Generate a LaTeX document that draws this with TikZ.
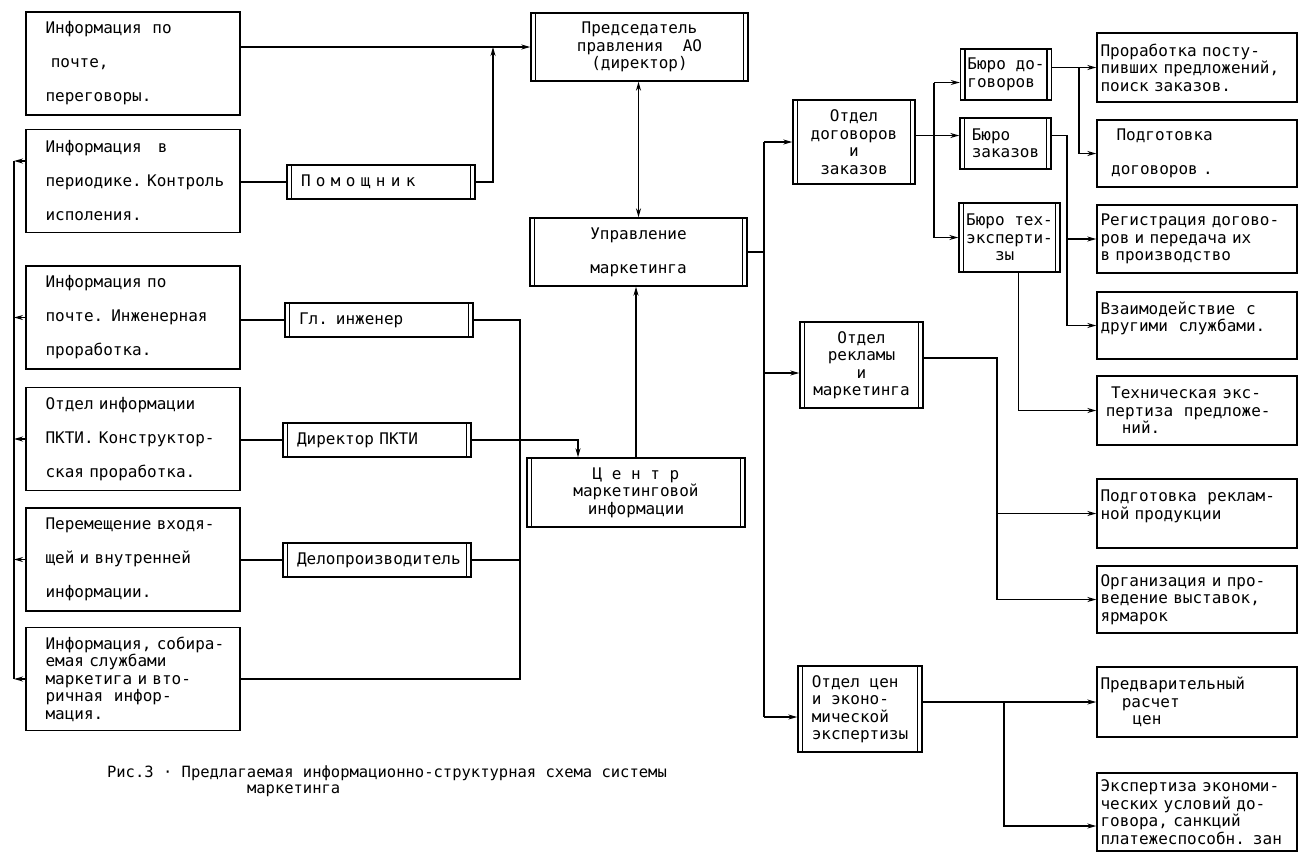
\documentclass[tikz,border=0pt]{standalone}
\usepackage{fontspec}
\newfontfamily\schemefont{DejaVu Sans Mono}
\usetikzlibrary{arrows.meta, calc}
\hyphenpenalty=10000
\exhyphenpenalty=10000

\begin{document}
\begin{tikzpicture}[x=1pt, y=-1pt, line width=1.4pt,
    >={Stealth[length=9pt,width=5pt]},
    every node/.style={font=\schemefont\fontsize{16}{17.5}\selectfont},
    wide/.style={font=\schemefont\fontsize{16}{34}\selectfont},
    box/.style={draw, line width=1.4pt, inner sep=0pt},
    dbox/.style={box, path picture={
        \draw[line width=1.4pt] ([xshift=4.5pt]path picture bounding box.north west) -- ([xshift=4.5pt]path picture bounding box.south west)
            ([xshift=-4.5pt]path picture bounding box.north east) -- ([xshift=-4.5pt]path picture bounding box.south east);}},
    lbox/.style={box, minimum width=214, minimum height=103, text width=175, align=left},
    mbox/.style={dbox, minimum width=188, minimum height=34, text width=160, align=left},
    rbox/.style={box, minimum width=200, text width=193, align=left}]
    \useasboundingbox (0,0) rectangle (1300,857);

    % Incoming information (left column)
    \node[lbox, wide] (mail) at (133,63.5) {Информация~~по\\~почте,\\переговоры.};
    \node[lbox, wide] (press) at (133,181) {Информация~~~в\\периодике.~Контроль\\исполения.};
    \node[lbox, wide] (tech) at (133,317.5) {Информация по\\почте. Инженерная\\проработка.};
    \node[lbox, wide] (pkti) at (133,439) {Отдел информации\\ПКТИ. Конструктор-\\ская проработка.};
    \node[lbox, wide] (flow) at (133,559.5) {Перемещение входя-\\щей и внутренней\\информации.};
    \node[lbox] (second) at (133,679) {Информация,~собира-\\емая службами\\маркетига и вто-\\ричная~~инфор-\\мация.};

    % Staff
    \node[mbox] (asst) at (381,182) {П о м о щ н и к};
    \node[mbox] (eng) at (379,320) {Гл. инженер};
    \node[mbox] (dir) at (377,440) {Директор ПКТИ};
    \node[mbox] (clerk) at (377,560) {Делопроизводитель};

    % Management
    \node[dbox, minimum width=217, minimum height=68, align=center] (chair) at (639.5,47) {Председатель\\правления~~АО\\(директор)};
    \node[dbox, wide, minimum width=217, minimum height=68, align=center] (mgmt) at (638.5,252) {Управление\\маркетинга};
    \node[dbox, minimum width=218, minimum height=69, align=center] (mic) at (636,492.5) {Ц е н т р\\маркетинговой\\информации};

    % Departments
    \node[dbox, minimum width=122, minimum height=84, align=center] (contr) at (854,142) {Отдел\\договоров\\и\\заказов};
    \node[dbox, minimum width=123, minimum height=86, align=center] (adv) at (861.5,365) {Отдел\\рекламы\\и\\маркетинга};
    \node[dbox, minimum width=124, minimum height=86, align=left] (price) at (860,709) {Отдел цен\\и эконо-\\мической\\экспертизы};

    % Bureaus
    \node[dbox, minimum width=91, minimum height=51, align=left] (bdog) at (1006,74.5) {Бюро до-\\говоров};
    \node[dbox, minimum width=91, minimum height=51, align=left] (bzak) at (1005.5,143.5) {Бюро\\заказов};
    \node[dbox, minimum width=101, minimum height=69, align=left] (btex) at (1009.5,237.5) {Бюро тех-\\эксперти-\\~~~зы};

    % Functions (right column)
    \node[rbox, minimum height=69] (r1) at (1197,67.5) {Проработка посту-\\пивших предложений,\\поиск заказов.};
    \node[rbox, wide, minimum height=67] (r2) at (1197,153.5) {~~~Подготовка\\~~договоров~.};
    \node[rbox, minimum height=68] (r3) at (1197,239) {Регистрация догово-\\ров и передача их\\в производство};
    \node[rbox, minimum height=67] (r4) at (1197,325.5) {Взаимодействие~~с\\другими~~службами.\\\mbox{}};
    \node[rbox, minimum height=69] (r5) at (1197,410.5) {~~Техническая экс-\\~пертиза~~предложе-\\~~~~ний.};
    \node[rbox, minimum height=69] (r6) at (1197,513.5) {Подготовка~~реклам-\\ной продукции\\\mbox{}};
    \node[rbox, minimum height=67] (r7) at (1197,599.5) {Организация и про-\\ведение выставок,\\ярмарок};
    \node[rbox, minimum height=70] (r8) at (1197,702) {Предварительный\\~~~~расчет\\~~~~~~цен};
    \node[rbox, minimum height=78] (r9) at (1197,812) {Экспертиза экономи-\\ческих условий до-\\говора, санкций\\платежеспособн. зан};

    % Caption
    \node[anchor=base west, align=left, font=\schemefont\fontsize{15.5}{15.5}\selectfont] (caption) at (103,793)
        {Рис.3 · Предлагаемая информационно-структурная схема системы\\~~~~~~~~~~~~~~~маркетинга};

    % Helper points
    \coordinate (lbus) at (14,0);
    \coordinate (up) at (493,0);
    \coordinate (mbus) at (520,0);
    \coordinate (rbus) at (764,0);
    \coordinate (cbus) at (934,0);
    \coordinate (v1) at (1079,0);
    \coordinate (v2) at (1067,0);
    \coordinate (v3) at (997,0);
    \coordinate (v4) at (1004,0);
    \coordinate (pressout) at ([yshift=20pt]press.west);
    \coordinate (micin) at ([xshift=-58pt]mic.north);
    \coordinate (advin) at ([yshift=-8pt]adv.west);
    \coordinate (pricein) at ([yshift=-8pt]price.west);
    \coordinate (bdogin) at ([yshift=-8pt]bdog.west);
    \coordinate (bzakin) at ([yshift=8pt]bzak.west);
    \coordinate (bzakout) at ([yshift=8pt]bzak.east);
    \coordinate (btexout) at ([xshift=9pt]btex.south);
    \coordinate (advout) at ([yshift=7pt]adv.east);
    \coordinate (r9in) at ([yshift=-14pt]r9.west);

    % Left bus
    \draw (pressout -| lbus) -- (second.west -| lbus);
    \draw[->] (pressout) -- (pressout -| lbus);
    \draw[->] (tech.west) -- (tech.west -| lbus);
    \draw[->] (pkti.west) -- (pkti.west -| lbus);
    \draw[->] (flow.west) -- (flow.west -| lbus);
    \draw[->] (second.west) -- (second.west -| lbus);

    % Information to the staff
    \draw[->] (chair.west -| mail.east) -- (chair.west);
    \draw (asst.west -| press.east) -- (asst.west);
    \draw (eng.west -| tech.east) -- (eng.west);
    \draw (dir.west -| pkti.east) -- (dir.west);
    \draw (clerk.west -| flow.east) -- (clerk.west);
    \draw[->] (asst.east) -| (up |- chair.west);
    \draw (eng.east) -| (mbus |- second.east) -- (second.east);
    \draw (clerk.east) -- (clerk.east -| mbus);
    \draw[->] (dir.east) -| (micin);

    % Management links
    \draw[->] (mic.north) -- (mic.north |- mgmt.south);
    \draw[<->] (mgmt.north) -- (mgmt.north |- chair.south);
    \draw (mgmt.east) -- (mgmt.east -| rbus);
    \draw (contr.west -| rbus) -- (pricein -| rbus);
    \draw[->] (contr.west -| rbus) -- (contr.west);
    \draw[->] (advin -| rbus) -- (advin);
    \draw[->] (pricein -| rbus) -- (pricein);

    % Contracts department
    \draw[->] (bzakin -| contr.east) -- (bzakin);
    \draw (bdogin -| cbus) -- (btex.west -| cbus);
    \draw[->] (bdogin -| cbus) -- (bdogin);
    \draw[->] (btex.west -| cbus) -- (btex.west);
    \draw[->] (r1.west -| bdog.east) -- (r1.west);
    \draw[->] (r1.west -| v1) |- (r2.west);
    \draw[->] (bzakout) -| (v2 |- r4.west) -- (r4.west);
    \draw[->] (v2 |- r3.west) -- (r3.west);
    \draw[->] (btexout) |- (r5.west);

    % Advertising department
    \draw[->] (advout) -| (v3 |- r7.west) -- (r7.west);
    \draw[->] (v3 |- r6.west) -- (r6.west);

    % Pricing department
    \draw[->] (r8.west -| price.east) -- (r8.west);
    \draw[->] (r8.west -| v4) |- (r9in);
\end{tikzpicture}
\end{document}
